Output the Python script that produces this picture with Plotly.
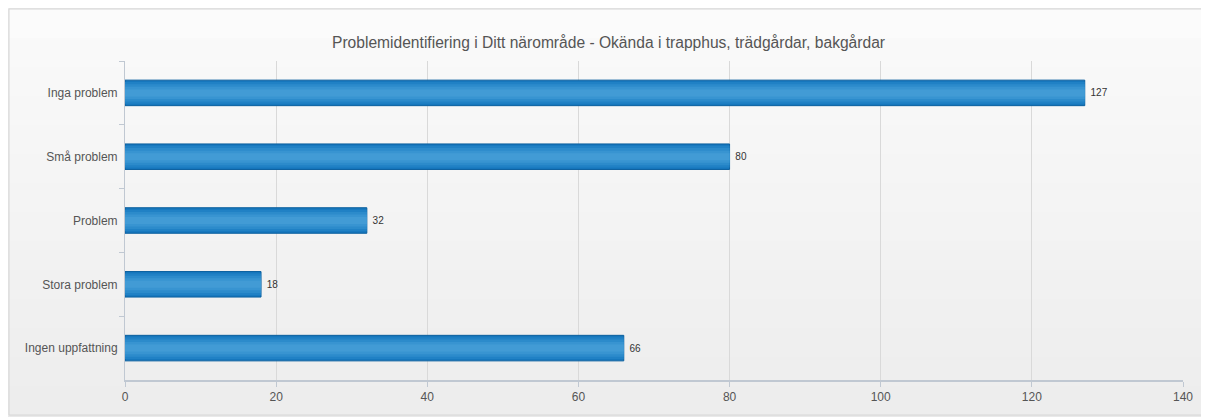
import plotly.graph_objects as go

categories = ["Inga problem", "Små problem", "Problem", "Stora problem", "Ingen uppfattning"]
values = [127, 80, 32, 18, 66]
title = "Problemidentifiering i Ditt närområde - Okända i trapphus, trädgårdar, bakgårdar"

fig = go.Figure()

# main bar with dark edge, value labels outside
fig.add_trace(go.Bar(x=values, y=categories, orientation="h", width=0.4,
                     marker=dict(color="#1677bd", line=dict(color="#0a5f9e", width=1)),
                     text=["\u00a0" + str(v) for v in values], textposition="outside",
                     textfont=dict(size=10, color="#333333", family="Liberation Sans, Arial"),
                     cliponaxis=False, hoverinfo="x+y"))
# lighter layers on top to imitate the gradient
for w, col in [(0.34, "#2081c5"), (0.27, "#2c8bcb"), (0.19, "#3894d1"), (0.11, "#429bd5")]:
    fig.add_trace(go.Bar(x=values, y=categories, orientation="h", width=w,
                         marker=dict(color=col, line=dict(width=0)), hoverinfo="skip"))

# panel background (vertical gradient approximation)
x0, x1 = -116 / 1058, 1 + 24 / 1058
top, bot = 1 + 52 / 319, -35 / 319
steps = 14
for i in range(steps):
    c = int(251 - (251 - 237) * i / (steps - 1))
    fig.add_shape(type="rect", xref="paper", yref="paper", layer="below",
                  x0=x0, x1=x1,
                  y0=top - (top - bot) * i / steps, y1=top - (top - bot) * (i + 1) / steps,
                  fillcolor=f"rgb({c},{c},{c})", line=dict(width=0))
fig.add_shape(type="rect", xref="paper", yref="paper", layer="below",
              x0=x0, x1=x1, y0=bot, y1=top,
              fillcolor="rgba(0,0,0,0)", line=dict(color="#d6d6d6", width=1))

fig.update_layout(
    width=1201, height=409,
    margin=dict(l=117, r=26, t=53, b=37),
    paper_bgcolor="#e9e9e9", plot_bgcolor="rgba(0,0,0,0)",
    barmode="overlay", showlegend=False,
    title=dict(text=title, x=0.5, xanchor="center", y=1 - 35 / 409, yanchor="middle",
               font=dict(size=15.6, color="#555555", family="Liberation Sans, Arial")),
    font=dict(family="Liberation Sans, Arial", size=12, color="#555555"),
)
fig.update_xaxes(range=[0, 140], dtick=20, showgrid=True, gridcolor="#d9d9d9", gridwidth=1,
                 zeroline=False, showline=True, linecolor="#c0c8d2", linewidth=2,
                 ticks="outside", ticklen=5, tickcolor="#c0c8d2",
                 tickfont=dict(size=12, color="#555555"))
fig.update_yaxes(autorange="reversed", showgrid=False, showline=True, linecolor="#c0c8d2",
                 linewidth=1, ticks="outside", ticklen=5, tickcolor="#c0c8d2",
                 tickson="boundaries", ticklabelstandoff=4, automargin=False,
                 tickfont=dict(size=12, color="#555555"))

fig.write_html("out.html")
